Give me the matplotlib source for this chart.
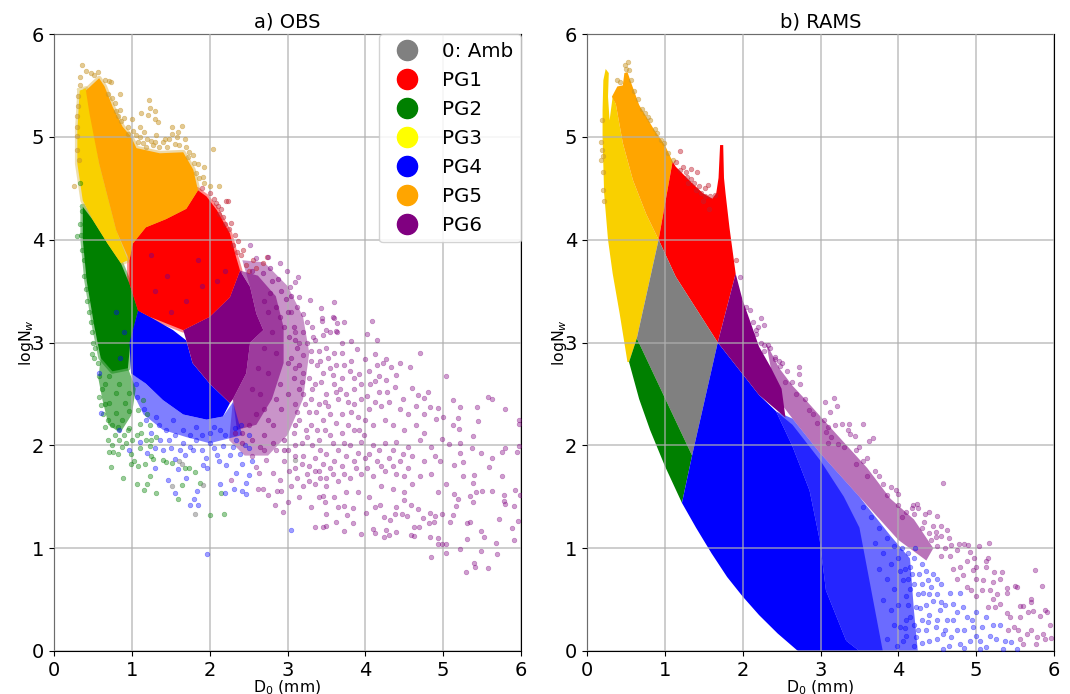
import matplotlib
matplotlib.use("Agg")
import matplotlib.pyplot as plt
from matplotlib.lines import Line2D

# (D0, logNw) outlines of the saturated clouds
obs_orange = [(.41, 5.45), (.58, 5.57), (.65, 5.49), (.755, 5.29), (.88, 5.10), (.99, 5.0), (1.06, 4.89), (1.36, 4.84),
              (1.66, 4.85), (1.79, 4.68), (1.85, 4.48), (1.70, 4.30), (1.44, 4.20), (1.18, 4.12), (1.01, 3.96),
              (.97, 3.80), (.80, 4.09), (.58, 4.74), (.455, 5.23)]
obs_yellow = [(.33, 5.45), (.41, 5.47), (.48, 5.2), (.58, 4.74), (.80, 4.09), (.95, 3.8), (.86, 3.77), (.69, 3.96),
              (.5, 4.19), (.37, 4.38), (.30, 4.74), (.30, 5.06)]
obs_green = [(.37, 4.32), (.5, 4.19), (.69, 3.96), (.86, 3.77), (.97, 3.57), (1.08, 3.31), (.98, 3.0), (.95, 2.75),
             (.75, 2.72), (.6, 2.85), (.52, 3.15), (.42, 3.6), (.37, 4.0)]
obs_green_thin = [(.6, 2.85), (.95, 2.75), (1.05, 2.55), (1.0, 2.3), (.85, 2.12), (.7, 2.2), (.62, 2.45), (.57, 2.65)]
obs_blue = [(1.08, 3.31), (1.23, 3.25), (1.53, 3.12), (1.7, 3.02), (1.78, 2.8), (2.0, 2.6), (2.26, 2.41), (2.17, 2.28),
            (1.96, 2.25), (1.66, 2.3), (1.4, 2.44), (1.18, 2.6), (.99, 2.7), (.97, 3.0)]
obs_blue_thin = [(1.0, 2.7), (1.18, 2.6), (1.4, 2.44), (1.66, 2.3), (1.96, 2.25), (2.17, 2.28), (2.3, 2.42), (2.42, 2.1), (2.0, 2.02),
                 (1.7, 2.08), (1.4, 2.15), (1.15, 2.3), (1.02, 2.5)]
obs_red = [(1.85, 4.48), (1.96, 4.42), (2.09, 4.29), (2.26, 4.06), (2.34, 3.83), (2.39, 3.7), (2.26, 3.44), (2.0, 3.25),
           (1.66, 3.12), (1.23, 3.25), (1.08, 3.31), (.97, 3.57), (.97, 3.8), (1.01, 3.96), (1.18, 4.12), (1.44, 4.20),
           (1.70, 4.30)]
obs_purple = [(2.39, 3.7), (2.52, 3.54), (2.6, 3.28), (2.69, 3.12), (2.52, 3.0), (2.47, 2.7), (2.3, 2.45), (2.26, 2.41),
              (2.0, 2.6), (1.78, 2.8), (1.7, 3.02), (1.66, 3.12), (2.0, 3.25), (2.26, 3.44)]
obs_purple_thin = [(2.39, 3.7), (2.62, 3.65), (2.85, 3.45), (2.95, 3.15), (2.95, 2.8), (2.8, 2.45), (2.6, 2.2), (2.35, 2.15),
                   (2.3, 2.45), (2.47, 2.7), (2.52, 3.0), (2.69, 3.12), (2.6, 3.28), (2.52, 3.54)]
obs_purple_haze = [(2.42, 3.8), (2.7, 3.78), (3.0, 3.55), (3.2, 3.25), (3.28, 2.9), (3.2, 2.45), (3.0, 2.1), (2.75, 1.9),
                   (2.45, 1.9), (2.25, 2.05), (2.3, 2.45), (2.47, 2.7), (2.52, 3.0), (2.69, 3.12), (2.6, 3.28), (2.52, 3.54)]

rams_yellow = [(.21, 5.55), (.24, 5.66), (.28, 5.62), (.27, 5.39), (.29, 5.16), (.33, 5.39), (.37, 5.32), (.46, 4.94),
               (.59, 4.58), (.76, 4.25), (.92, 4.0), (.64, 3.04), (.54, 2.81), (.52, 2.81), (.42, 3.28), (.33, 3.67),
               (.27, 4.0), (.22, 4.45), (.2, 5.0), (.2, 5.26)]
rams_orange = [(.32, 5.39), (.39, 5.49), (.46, 5.5), (.48, 5.62), (.52, 5.63), (.57, 5.52), (.67, 5.31), (.87, 5.06),
               (1.0, 4.92), (1.10, 4.76), (.92, 4.0), (.76, 4.25), (.59, 4.58), (.46, 4.94), (.37, 5.32)]
rams_red = [(1.10, 4.76), (1.14, 4.71), (1.31, 4.58), (1.49, 4.45), (1.61, 4.4), (1.66, 4.45), (1.69, 4.6), (1.71, 4.92), (1.75, 4.92),
            (1.76, 4.6), (1.78, 4.45), (1.83, 4.12), (1.91, 3.67), (1.68, 3.0), (1.14, 3.64), (.92, 4.0)]
rams_gray = [(.92, 4.0), (1.14, 3.64), (1.68, 3.0), (1.35, 1.9), (.64, 3.04)]
rams_green = [(.64, 3.04), (1.35, 1.9), (1.22, 1.44), (1.0, 1.8), (.81, 2.15), (.67, 2.45), (.54, 2.81)]
rams_blue = [(1.68, 3.0), (2.21, 2.49), (2.43, 2.33), (2.64, 1.99), (2.86, 1.56), (2.99, 1.08), (3.07, .59), (3.33, .1),
             (3.5, 0), (2.71, 0), (2.45, .17), (2.21, .35), (2.0, .53), (1.8, .72), (1.6, .95), (1.4, 1.2), (1.22, 1.44), (1.35, 1.9)]
rams_blue_mid = [(2.43, 2.33), (2.64, 2.2), (3.0, 1.85), (3.3, 1.5), (3.5, 1.2), (3.6, .8), (3.7, .4), (3.8, 0), (3.5, 0),
                 (3.33, .1), (3.07, .59), (2.99, 1.08), (2.86, 1.56), (2.64, 1.99)]
rams_blue_thin = [(2.43, 2.33), (2.64, 2.26), (3.0, 1.92), (3.5, 1.5), (3.9, 1.12), (4.15, .9), (4.2, .4), (4.25, 0), (3.5, 0),
                  (3.33, .1), (3.07, .59), (2.99, 1.08), (2.86, 1.56), (2.64, 1.99)]
rams_purple = [(1.91, 3.67), (2.0, 3.41), (2.09, 3.22), (2.21, 2.96), (2.36, 2.76), (2.5, 2.55), (2.55, 2.27), (2.21, 2.49), (1.68, 3.0)]
rams_purple_thin = [(2.3, 3.0), (2.47, 2.75), (2.64, 2.58), (2.8, 2.45), (3.0, 2.28), (3.3, 2.03), (3.6, 1.78), (3.9, 1.48),
                    (4.2, 1.28), (4.45, 1.0), (4.36, .88), (4.0, 1.08), (3.5, 1.5), (3.0, 1.92), (2.64, 2.26), (2.41, 2.49), (2.36, 2.76)]

# points that stand alone
obs_tan_pts = [(.36, 5.70), (.41, 5.64), (.47, 5.62), (.57, 5.63), (.33, 5.58), (.52, 5.6), (.71, 5.54), (.73, 5.53), (.85, 5.42),
               (1.22, 5.36), (1.23, 5.28), (1.30, 5.25), (1.12, 5.23), (1.21, 5.21), (1.0, 5.17), (1.30, 5.17), (1.34, 5.14),
               (.85, 5.26), (.82, 5.2), (.86, 5.15), (.95, 5.1), (1.1, 5.1), (1.15, 5.05), (1.31, 5.02), (1.51, 5.1), (1.64, 5.11),
               (1.59, 5.05), (1.51, 5.03), (1.68, 4.98), (1.4, 4.95), (1.48, 4.98), (1.27, 4.92), (1.14, 4.94), (2.04, 4.88),
               (1.79, 4.82), (1.74, 4.85), (1.85, 4.74), (1.93, 4.71), (1.91, 4.61), (2.0, 4.52), (2.12, 4.52), (1.93, 4.55),
               (.26, 4.52), (.30, 5.01), (.30, 4.87), (.32, 4.77), (.34, 5.5), (.31, 5.3), (.3, 5.2), (.66, 5.55), (.7, 5.42),
               (.78, 5.33), (.9, 5.18), (1.05, 5.02), (1.2, 4.98), (1.35, 4.9), (1.55, 4.93), (1.7, 4.9), (1.8, 4.75),
               (1.86, 4.6), (1.1, 5.0), (1.25, 4.96), (1.45, 4.9), (1.6, 4.92), (1.02, 5.06), (.31, 5.4), (.29, 5.1), (.75, 5.38),
               (.8, 5.25), (.95, 5.03), (1.08, 4.95), (1.18, 4.9), (1.3, 4.95), (1.42, 4.98), (1.58, 5.0), (1.72, 4.8), (1.83, 4.65)]
obs_red_pts = [(2.24, 4.38), (2.21, 4.38), (2.11, 4.33), (2.17, 4.22), (2.28, 4.16), (2.36, 3.99), (2.43, 3.9), (2.56, 3.8),
               (2.74, 3.83), (2.69, 3.77), (2.05, 4.4), (2.15, 4.3), (2.25, 4.1), (2.32, 4.05), (2.4, 3.85), (2.47, 3.75),
               (1.9, 4.5), (2.0, 4.45), (2.08, 4.36), (2.3, 3.95), (2.5, 3.7), (2.6, 3.72), (2.2, 4.15), (2.35, 3.88), (2.12, 4.25)]
obs_green_pts = [(.73, 1.79), (.89, 1.68), (1.07, 1.62), (1.16, 1.57), (1.2, 1.62), (1.31, 1.54), (.99, 1.82), (1.08, 1.8), (1.17, 1.82),
                 (1.03, 1.85), (1.24, 1.9), (1.27, 1.87), (1.4, 1.86), (1.44, 1.84), (1.51, 1.83), (1.68, 1.78), (1.73, 1.78),
                 (1.81, 1.74), (1.23, 1.7), (1.64, 1.61), (1.59, 1.48), (1.87, 1.63), (2.15, 1.54), (2.0, 1.32), (2.18, 1.33),
                 (.71, 1.94), (.76, 1.94), (.82, 1.92), (.99, 1.92), (1.1, 1.97), (1.23, 1.99), (.49, 2.89), (.7, 2.05), (.78, 2.1),
                 (.65, 2.18), (.69, 2.25), (.58, 2.47), (.6, 2.39), (.63, 2.3), (.84, 2.05), (.93, 2.02), (1.06, 2.1), (1.18, 2.05),
                 (1.31, 2.08), (1.23, 2.2), (1.1, 2.21), (.97, 2.17), (.88, 2.25), (.8, 2.31), (.71, 2.41), (.97, 2.33), (1.08, 2.34),
                 (.8, 2.51), (.91, 2.41), (.65, 2.6), (.84, 2.6), (.71, 2.67), (.58, 2.67), (.97, 2.51), (1.14, 2.44),
                 (.33, 4.55), (.29, 4.04), (.34, 4.15), (.36, 3.9), (.39, 3.65), (.43, 3.4), (.47, 3.2), (.5, 3.0), (.52, 2.85),
                 (.36, 4.28), (.35, 4.05), (.38, 3.8), (.41, 3.52), (.45, 3.3), (.49, 3.1), (.53, 2.95), (.56, 2.8), (.62, 2.55), (.66, 2.4),
                 (.74, 2.2), (.82, 2.18), (.9, 2.1), (1.0, 2.05), (1.12, 2.12), (1.2, 2.3), (1.25, 2.05), (.75, 2.0), (.88, 1.98), (.95, 2.15)]
obs_blue_pts = [(1.47, 1.66), (1.7, 1.68), (1.55, 1.54), (1.84, 1.56), (1.85, 1.42), (1.3, 1.78), (1.56, 1.87), (1.59, 1.77), (1.68, 1.91),
                (1.79, 1.95), (1.91, 1.81), (1.96, 1.78), (2.13, 1.62), (2.2, 1.54), (2.31, 1.58), (2.41, 1.56), (2.47, 1.53), (2.47, 1.63),
                (2.51, 1.71), (2.34, 1.73), (2.21, 1.81), (2.09, 1.91), (2.26, 1.91), (2.39, 1.92), (2.51, 1.97), (1.48, 2.05), (1.66, 2.02),
                (1.83, 2.05), (2.0, 2.02), (2.17, 1.99), (2.34, 2.05), (1.36, 2.05), (1.44, 2.15), (1.66, 2.15), (1.83, 2.18), (2.0, 2.12),
                (2.13, 2.15), (2.32, 2.17), (2.51, 2.1), (1.18, 2.25), (1.31, 2.28), (1.53, 2.25), (1.06, 2.47), (.58, 2.7), (.6, 2.31),
                (.84, 2.15), (.97, 1.95), (1.97, .94), (1.75, 1.42), (1.8, 1.48), (3.05, 1.18), (1.15, 2.35), (1.25, 2.12), (1.35, 2.2),
                (1.55, 2.1), (1.75, 2.1), (1.9, 2.1), (2.05, 2.18), (2.2, 2.1), (2.4, 2.2), (1.05, 2.6), (.85, 2.85), (.9, 3.1), (.8, 3.3),
                (1.4, 1.95), (1.5, 1.97), (1.75, 1.98), (1.9, 1.95), (2.05, 1.97), (2.12, 1.85), (2.3, 1.98), (2.42, 1.82), (1.95, 1.88),
                (1.62, 1.95), (1.3, 1.97), (1.2, 1.93), (2.55, 1.85), (2.45, 2.0), (1.1, 2.03)]
obs_gray_pts = [(1.81, 1.33), (1.91, 1.61), (1.64, 1.82), (3.1, 1.86), (1.52, 1.6), (1.6, 1.85)]
obs_purple_pts = [(4.70, 2.90), (5.04, 2.67), (4.58, 2.76), (4.44, 2.80), (4.26, 2.84), (4.12, 2.89), (4.08, 3.21), (4.02, 3.08), (4.15, 3.02),
                  (3.60, 3.39), (3.43, 3.34), (3.44, 3.24), (3.60, 3.24), (3.73, 3.20), (3.64, 3.19), (3.50, 3.12), (3.62, 3.11), (3.81, 3.01),
                  (3.89, 2.94), (4.0, 2.84), (3.92, 2.69), (4.23, 2.80), (4.33, 2.76), (4.39, 2.68), (4.26, 2.64), (4.12, 2.63), (4.17, 2.67),
                  (4.06, 2.60), (4.38, 2.57), (4.60, 2.56), (4.80, 2.52), (4.68, 2.49), (4.76, 2.46), (5.13, 2.44), (5.21, 2.37), (5.44, 2.37),
                  (5.58, 2.47), (5.63, 2.45), (5.80, 2.35), (4.94, 2.36), (4.83, 2.37), (5.0, 2.28), (4.91, 2.26), (5.19, 2.27), (5.13, 2.20),
                  (5.20, 2.16), (5.45, 2.24), (5.97, 2.25), (5.97, 2.21), (5.38, 2.09), (4.98, 2.06), (5.07, 2.01), (5.22, 2.02), (5.37, 1.97),
                  (5.48, 1.93), (5.75, 1.94), (5.79, 1.97), (5.95, 1.94), (5.97, 1.99), (5.63, 1.88), (5.22, 1.93), (4.96, 1.85), (5.14, 1.81),
                  (5.26, 1.84), (5.59, 1.79), (5.26, 1.70), (5.40, 1.71), (5.75, 1.70), (5.38, 1.63), (5.03, 1.62), (4.94, 1.55), (5.14, 1.53),
                  (5.19, 1.48), (5.34, 1.51), (5.42, 1.55), (5.50, 1.56), (5.63, 1.56), (5.92, 1.57), (5.78, 1.52), (5.78, 1.46), (5.80, 1.43),
                  (5.91, 1.41), (5.99, 1.52), (5.38, 1.45), (5.17, 1.41), (4.98, 1.33), (5.13, 1.32), (5.09, 1.25), (5.34, 1.25), (5.30, 1.24),
                  (5.72, 1.28), (5.88, 1.20), (5.96, 1.26), (5.49, 1.17), (5.52, 1.11), (5.91, 1.08), (5.30, 1.09), (5.68, 1.05), (5.21, 0.99),
                  (5.48, 0.97), (5.69, 0.94), (5.04, 1.04), (4.99, 1.04), (4.93, 1.04), (5.03, 0.95), (4.85, 0.91), (5.39, 0.86), (5.41, 0.82),
                  (5.29, 0.77), (5.57, 0.81), (4.93, 1.10), (4.83, 1.11), (4.63, 1.12), (4.59, 1.13), (4.40, 1.16), (4.30, 1.13), (4.24, 1.11),
                  (4.27, 1.18), (4.10, 1.19), (4.12, 1.15), (3.94, 1.14), (3.72, 1.17), (3.84, 1.24), (3.62, 1.25), (3.49, 1.22), (3.45, 1.21),
                  (3.35, 1.21), (3.50, 1.33), (3.76, 1.32), (4.01, 1.34), (4.24, 1.30), (4.32, 1.27), (4.38, 1.33), (4.47, 1.33), (4.54, 1.31),
                  (4.63, 1.21), (4.69, 1.21), (4.74, 1.29), (4.83, 1.34), (4.89, 1.31), (4.88, 1.25), (4.82, 1.24), (4.68, 1.38), (4.59, 1.42),
                  (4.50, 1.47), (4.40, 1.40), (4.19, 1.42), (4.12, 1.40), (3.84, 1.39), (3.72, 1.41), (3.65, 1.40), (3.48, 1.45), (3.30, 1.40),
                  (3.46, 1.51),
                  (3.1, 2.75), (3.2, 2.7), (3.3, 2.82), (3.35, 2.6), (3.45, 2.7), (3.55, 2.75), (3.6, 2.6), (3.7, 2.65), (3.8, 2.72), (3.75, 2.5),
                  (3.65, 2.45), (3.5, 2.5), (3.4, 2.4), (3.3, 2.45), (3.2, 2.5), (3.1, 2.4), (3.15, 2.25), (3.3, 2.2), (3.45, 2.25), (3.55, 2.3),
                  (3.7, 2.3), (3.85, 2.4), (3.95, 2.45), (4.05, 2.35), (4.2, 2.38), (4.3, 2.42), (4.45, 2.35), (4.55, 2.3), (4.65, 2.38), (4.75, 2.3),
                  (4.0, 2.25), (4.1, 2.2), (4.25, 2.25), (4.35, 2.2), (4.5, 2.15), (4.65, 2.2), (4.75, 2.12), (3.85, 2.15), (3.7, 2.12), (3.55, 2.1),
                  (3.4, 2.05), (3.25, 2.08), (3.1, 2.0), (3.2, 1.9), (3.35, 1.88), (3.5, 1.92), (3.65, 1.95), (3.8, 2.0), (3.95, 2.03), (4.1, 2.0),
                  (4.25, 2.02), (4.4, 2.03), (4.55, 1.98), (4.7, 2.05), (4.85, 1.98), (4.9, 1.9), (4.75, 1.85), (4.6, 1.9), (4.45, 1.85), (4.3, 1.88),
                  (4.15, 1.85), (4.0, 1.88), (3.85, 1.85), (3.7, 1.8), (3.55, 1.78), (3.4, 1.75), (3.25, 1.72), (3.1, 1.78), (3.05, 1.6), (3.2, 1.6),
                  (3.35, 1.62), (3.5, 1.6), (3.65, 1.65), (3.8, 1.68), (3.95, 1.72), (4.1, 1.7), (4.25, 1.75), (4.4, 1.72), (4.55, 1.78), (4.7, 1.7),
                  (4.85, 1.72), (4.2, 1.6), (4.35, 1.58), (4.5, 1.55), (4.6, 1.62), (3.9, 1.55), (4.05, 1.5), (3.75, 1.55), (3.6, 1.5), (3.4, 1.5),
                  (2.99, 3.70), (2.9, 3.77), (2.75, 3.83), (2.6, 3.82), (2.52, 3.95), (3.14, 3.64), (3.1, 3.59), (3.03, 3.54), (3.15, 3.44),
                  (3.29, 3.41), (3.2, 3.28), (3.31, 3.15), (3.44, 3.21), (3.46, 3.07), (3.55, 3.1), (3.59, 3.25), (3.63, 3.1),
                  (3.2, 3.1), (3.25, 3.0), (3.35, 3.02), (3.4, 2.92), (3.5, 2.95), (3.6, 2.9), (3.7, 2.9), (3.3, 2.92), (3.2, 2.88), (3.15, 3.0),
                  (3.1, 3.1), (3.05, 3.3), (3.12, 3.35), (3.25, 3.2), (3.7, 3.0), (2.27, 1.66), (2.69, 1.58), (2.62, 1.58), (2.75, 1.52), (2.86, 1.56),
                  (2.92, 1.56), (2.84, 1.42), (2.94, 1.35), (2.64, 1.73), (2.82, 1.73), (2.9, 1.66), (2.73, 1.86), (2.6, 1.79), (3.0, 1.45), (3.15, 1.5),
                  (2.95, 1.85), (3.0, 1.95), (2.85, 1.95), (2.7, 1.95), (2.55, 1.9),
                  (3.33, 3.05), (3.38, 2.78), (3.43, 2.62), (3.28, 2.65), (3.18, 2.62), (3.32, 2.55), (3.22, 2.4), (3.12, 2.32), (3.36, 2.32), (3.28, 2.32),
                  (3.48, 2.42), (3.42, 2.82), (3.52, 2.85), (3.58, 2.68), (3.62, 2.52), (3.52, 2.38), (3.62, 2.22), (3.38, 2.15), (3.24, 2.15), (3.48, 2.15),
                  (3.18, 2.02), (3.32, 2.0), (3.42, 1.95), (3.58, 2.02), (3.72, 2.02), (3.78, 2.2), (3.82, 2.32), (3.9, 2.28), (3.92, 2.15), (3.98, 2.1),
                  (3.78, 2.42), (3.68, 2.55), (3.85, 2.55), (3.95, 2.6), (4.02, 2.48), (4.12, 2.42), (4.18, 2.52), (4.28, 2.52), (4.48, 2.45), (3.82, 2.82),
                  (3.72, 2.78), (3.62, 2.78), (3.85, 2.65), (4.05, 2.72), (4.15, 2.78), (3.18, 1.82), (3.28, 1.8), (3.45, 1.82), (3.6, 1.85), (3.75, 1.9),
                  (3.9, 1.93), (4.05, 1.92), (4.18, 1.95), (4.35, 1.95), (4.48, 1.92), (3.12, 1.68), (3.28, 1.65), (3.42, 1.68), (3.58, 1.72), (3.72, 1.72),
                  (3.88, 1.78), (4.02, 1.78), (4.2, 1.8), (4.35, 1.8), (4.5, 1.7), (3.1, 1.9), (3.35, 1.75), (3.5, 1.68), (3.02, 1.75), (3.08, 2.12)]
obs_inner_pts = [(1.25, 3.85), (1.45, 3.65), (1.7, 3.4), (1.5, 3.3), (1.9, 3.55), (2.1, 3.6), (1.3, 3.5), (1.85, 3.8), (2.2, 3.7), (2.75, 3.3),
                 (2.8, 3.1), (2.85, 2.9), (2.75, 2.7), (2.65, 2.5), (2.9, 2.6), (3.0, 2.8), (2.85, 3.35), (2.95, 3.15), (2.7, 2.35),
                 (3.02, 3.05), (3.05, 2.85), (3.08, 2.65), (3.0, 2.5), (2.92, 2.35), (2.82, 2.2), (2.7, 2.1), (2.55, 2.05), (2.42, 2.02), (3.0, 3.3),
                 (2.92, 3.5), (2.8, 3.6), (2.68, 3.68), (2.55, 3.7), (2.78, 3.48), (2.7, 3.4), (2.9, 3.25), (2.7, 2.95), (2.62, 2.75), (2.55, 2.55),
                 (2.85, 2.45), (2.75, 2.25), (2.6, 2.3), (2.95, 2.05), (2.82, 2.02), (2.65, 1.98), (3.1, 2.2), (3.15, 2.55), (3.15, 2.78), (3.12, 2.95),
                 (3.08, 3.15), (2.98, 3.42), (2.88, 3.62), (2.78, 3.72), (3.05, 3.45), (3.1, 3.02), (2.42, 2.12), (2.5, 2.2), (2.32, 2.12), (2.95, 1.95)]

rams_tan_pts = [(.18, 4.95), (.19, 5.16), (.19, 4.87), (.2, 4.81), (.2, 4.66), (.21, 4.48), (.22, 4.38), (.18, 4.77), (.42, 5.53), (.39, 5.55),
                (.53, 5.73), (.49, 5.7), (.54, 5.65), (.57, 5.55), (.61, 5.45), (.65, 5.37), (.78, 5.19), (.81, 5.16), (.87, 5.08), (.95, 4.97),
                (.99, 4.94), (1.04, 4.84), (1.1, 4.77), (.71, 5.27), (.74, 5.23), (.9, 5.04), (.5, 5.66)]
rams_red_pts = [(1.19, 4.86), (1.14, 4.76), (1.23, 4.71), (1.34, 4.69), (1.41, 4.66), (1.29, 4.61), (1.38, 4.55), (1.55, 4.53), (1.51, 4.5),
                (1.49, 4.38), (1.64, 4.43), (1.57, 4.3), (1.4, 4.48), (1.46, 4.45), (1.27, 4.66), (1.34, 4.59), (1.91, 3.8), (1.2, 4.68), (1.3, 4.55),
                (1.44, 4.52), (1.58, 4.42), (1.52, 4.42)]
rams_purple_pts = [(2.73, 2.76), (2.72, 2.69), (2.74, 2.6), (2.64, 2.62), (2.57, 2.72), (2.48, 2.77), (3.06, 2.42), (3.17, 2.46), (3.21, 2.38),
                   (3.12, 2.32), (3.05, 2.25), (3.18, 2.2), (3.27, 2.21), (3.36, 2.21), (3.54, 2.21), (3.35, 2.15), (3.38, 2.11), (3.44, 2.09),
                   (3.67, 2.07), (3.62, 2.04), (3.09, 2.18), (3.07, 2.13), (3.14, 2.08), (3.23, 2.01), (4.58, 1.63), (3.91, 1.59), (3.97, 1.57),
                   (3.99, 1.53), (4.19, 1.42), (4.24, 1.43), (4.17, 1.39), (4.25, 1.39), (4.39, 1.35), (4.34, 1.33), (4.5, 1.31), (4.45, 1.22),
                   (4.55, 1.22), (4.63, 1.18), (4.49, 1.16), (4.48, 1.11), (4.55, 1.12), (4.68, 1.03), (4.78, 1.04), (4.84, 1.04), (4.9, 1.03),
                   (5.03, 1.02), (5.16, 1.05), (4.92, .96), (4.76, .98), (4.66, .92), (5.13, .88), (5.15, .9), (4.97, .9), (5.0, .82), (4.88, .88),
                   (4.79, .82), (4.7, .8), (5.13, .82), (4.96, .79), (4.83, .74), (4.75, .7), (5.76, .79), (5.84, .63), (5.23, .77), (5.33, .77),
                   (5.3, .7), (5.22, .67), (5.09, .69), (5.0, .7), (5.5, .63), (5.53, .62), (5.4, .61), (5.39, .56), (5.27, .55), (5.22, .51),
                   (5.18, .59), (5.08, .59), (5.0, .53), (4.94, .59), (4.88, .62), (5.7, .51), (5.7, .48), (5.6, .44), (5.56, .44), (5.39, .37),
                   (5.43, .33), (5.15, .43), (5.24, .43), (5.31, .46), (5.67, .38), (5.73, .39), (5.88, .4), (5.91, .38), (5.82, .34), (5.95, .25),
                   (5.56, .33), (5.48, .23), (5.54, .2), (5.41, .2), (5.65, .17), (5.71, .2), (5.78, .14), (5.86, .17), (5.88, .12), (5.96, .13),
                   (5.6, .07), (5.77, .07), (5.56, .12), (3.7, 1.75), (3.8, 1.62), (3.55, 1.85), (3.45, 1.95), (4.1, 1.35), (4.0, 1.42), (4.3, 1.2),
                   (4.6, 1.0), (4.55, .92), (2.1, 3.32), (2.17, 3.08), (2.28, 2.98), (2.42, 2.86), (2.55, 2.62), (2.85, 2.34), (2.95, 2.22), (3.1, 2.02),
                   (3.3, 1.98), (3.45, 1.82), (3.6, 1.7), (2.2, 3.15), (2.35, 2.95), (2.5, 2.8), (2.68, 2.5), (2.8, 2.45), (2.9, 2.3),
                   (2.23, 3.24), (2.28, 3.17), (2.32, 2.98), (2.28, 2.92), (2.42, 2.84), (2.47, 2.82), (2.13, 3.2), (2.17, 3.12), (2.24, 3.0), (2.04, 3.35), (1.96, 3.64),
                   (4.05, 1.3), (4.2, 1.33), (4.33, 1.25), (4.4, 1.15), (3.85, 1.52), (3.75, 1.7), (4.65, 1.1), (4.42, 1.08), (4.5, 1.02), (3.6, 1.88), (3.5, 1.98)]
rams_blue_pts = [(4.66, .56), (4.79, .56), (4.7, .46), (4.83, .43), (4.75, .38), (4.88, .33), (5.0, .38), (5.13, .33), (5.07, .23), (4.96, .23),
                 (5.22, .25), (5.3, .25), (5.18, .15), (5.26, .12), (5.37, .1), (5.45, .09), (5.05, .1), (4.92, .1), (4.79, .07), (4.68, .14),
                 (4.58, .17), (4.62, .3), (4.53, .4), (4.49, .23), (4.4, .1), (4.36, .2), (4.45, .49), (4.32, .56), (4.23, .43), (4.38, .69), (4.27, .75),
                 (4.15, .82), (4.06, .69), (4.1, .53), (4.15, .33), (4.02, .23), (4.06, .1), (4.23, .14), (5.05, .02), (5.35, .02), (5.52, .02), (5.13, .04),
                 (4.05, 1.0), (4.12, .95), (4.2, .9), (4.3, .85), (4.0, .9), (4.08, .8), (4.2, .65), (4.3, .65), (4.4, .55), (4.5, .55), (4.55, .65), (4.6, .45),
                 (4.4, .35), (4.3, .3), (4.5, .3), (4.3, .08), (4.2, .05), (4.1, .3), (4.0, .45), (4.1, .15), (4.35, .45), (4.45, .75), (4.5, .7), (4.2, .25),
                 (4.7, .3), (4.85, .2), (5.0, .15), (4.75, .2), (4.65, .05), (4.85, .03), (4.95, .3), (4.6, .2),
                 (3.55, 1.4), (3.65, 1.3), (3.75, 1.2), (3.85, 1.1), (3.7, 1.05), (3.8, .95), (3.9, .85), (3.95, 1.02), (3.75, .8), (3.85, .7), (3.95, .6),
                 (3.8, .5), (3.9, .4), (3.95, .25), (3.85, .12), (3.98, .05), (4.15, .6), (4.25, .55), (4.18, .75), (4.22, 1.0), (4.35, .78), (4.25, .2),
                 (4.12, .45), (4.08, .22), (4.02, .78), (4.12, .7), (4.28, .42), (4.38, .28), (4.42, .62), (4.5, .12), (4.55, .48), (4.58, .02)]

group_names = ["0: Amb", "PG1", "PG2", "PG3", "PG4", "PG5", "PG6"]
group_colors = ["gray", "red", "green", "yellow", "blue", "orange", "purple"]


def cloud(ax, outline, color, alpha=1.0, fuzz=None, zorder=2):
    xs = [p[0] for p in outline]
    ys = [p[1] for p in outline]
    ax.fill(xs, ys, color=color, alpha=alpha, lw=0, zorder=zorder)
    if fuzz:
        # soft rim where the original points thin out
        ax.plot(xs + xs[:1], ys + ys[:1], color=fuzz, lw=3.5, alpha=0.45, zorder=zorder - 0.5)


def dots(ax, pts, color, alpha=0.38, zorder=3):
    xs = [p[0] for p in pts]
    ys = [p[1] for p in pts]
    ax.scatter(xs, ys, s=11, color=color, alpha=alpha, lw=0.5, zorder=zorder)


fig, axes = plt.subplots(1, 2, figsize=(10.7, 6.94), dpi=100)
fig.subplots_adjust(left=54 / 1070, right=1054 / 1070, top=1 - 34 / 694, bottom=1 - 651 / 694, wspace=66 / 467)
ax1, ax2 = axes

cloud(ax1, obs_purple_haze, "purple", 0.42)
cloud(ax1, obs_purple_thin, "purple", 0.6)
cloud(ax1, obs_blue_thin, "blue", 0.5)
cloud(ax1, obs_green_thin, "green", 0.55)
cloud(ax1, obs_green, "green", fuzz="green")
cloud(ax1, obs_blue, "blue")
cloud(ax1, obs_purple, "purple")
cloud(ax1, obs_red, "red", fuzz="red")
cloud(ax1, obs_yellow, "#f9d000", fuzz="#d9b94a")
cloud(ax1, obs_orange, "orange", fuzz="#d9a93a")
dots(ax1, obs_tan_pts, "#c8962a", 0.5)
dots(ax1, obs_red_pts, "#c02030", 0.45)
dots(ax1, obs_green_pts, "green", 0.4)
dots(ax1, obs_blue_pts, "blue", 0.38)
dots(ax1, obs_gray_pts, "gray", 0.5)
dots(ax1, obs_purple_pts, "purple", 0.38)
dots(ax1, obs_inner_pts, "purple", 0.45)

cloud(ax2, rams_blue_thin, "blue", 0.58)
cloud(ax2, rams_blue_mid, "blue", 0.65)
cloud(ax2, rams_purple_thin, "purple", 0.55)
cloud(ax2, rams_yellow, "#f9d000")
cloud(ax2, rams_orange, "orange")
cloud(ax2, rams_red, "red")
cloud(ax2, rams_gray, "gray")
cloud(ax2, rams_green, "green")
cloud(ax2, rams_blue, "blue")
cloud(ax2, rams_purple, "purple")
dots(ax2, rams_tan_pts, "#c8962a", 0.5)
dots(ax2, rams_red_pts, "#c02030", 0.45)
dots(ax2, rams_purple_pts, "purple", 0.38)
dots(ax2, rams_blue_pts, "blue", 0.38)

for ax, title in zip(axes, ["a) OBS", "b) RAMS"]):
    ax.set_xlim(0, 6)
    ax.set_ylim(0, 6)
    ax.set_title(title, fontsize=14, pad=5)
    ax.set_xlabel("D$_0$ (mm)", fontsize=11.3, labelpad=-1)
    ax.set_ylabel("logN$_w$", fontsize=11.3, labelpad=-3)
    ax.tick_params(labelsize=14)
    ax.grid(True, color="#b0b0b0", lw=1.1, alpha=0.8, zorder=5)
    ax.set_axisbelow(False)

handles = [Line2D([], [], ls="", marker="o", ms=14.5, color=c) for c in group_colors]
ax1.legend(handles, group_names, loc="upper right", fontsize=14.3, labelspacing=0.5, framealpha=0.85, borderaxespad=0,
           handletextpad=0.75, borderpad=0.4, handlelength=2.0).set_zorder(10)

fig.savefig("out.png", dpi=100)
